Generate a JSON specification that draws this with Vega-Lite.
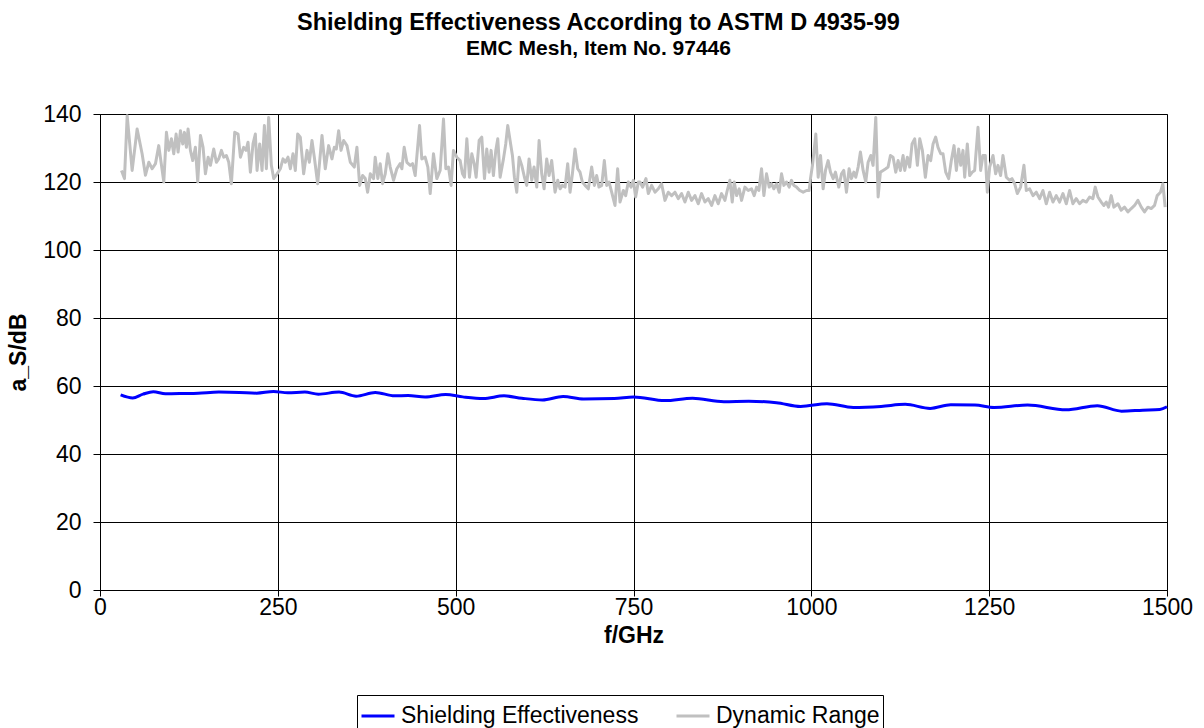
{
  "$schema": "https://vega.github.io/schema/vega-lite/v6.json",
  "width": 1067,
  "height": 476,
  "autosize": {"type": "none"},
  "padding": {"left": 100, "top": 114, "right": 37, "bottom": 138},
  "background": "white",
  "config": {
    "font": "Liberation Sans",
    "view": {"stroke": "#808080", "strokeWidth": 1}
  },
  "title": {
    "text": "Shielding Effectiveness According to ASTM D 4935-99",
    "subtitle": "EMC Mesh, Item No. 97446",
    "anchor": "middle",
    "frame": "group",
    "dx": -35,
    "offset": 44,
    "fontSize": 23.5,
    "fontWeight": "bold",
    "color": "black",
    "subtitleFontSize": 21,
    "subtitleFontWeight": "bold",
    "subtitleColor": "black",
    "subtitlePadding": 4
  },
  "datasets": {
    "se": [
      {"f": 29, "v": 57.4}, {"f": 46, "v": 56.5}, {"f": 60.5, "v": 57.6}, {"f": 75, "v": 58.3}, {"f": 92, "v": 57.7},
      {"f": 118.5, "v": 57.8}, {"f": 138, "v": 57.9}, {"f": 167, "v": 58.2}, {"f": 196, "v": 58.1}, {"f": 220, "v": 57.9},
      {"f": 244, "v": 58.4}, {"f": 264, "v": 58}, {"f": 288, "v": 58.2}, {"f": 307, "v": 57.6}, {"f": 336, "v": 58.2},
      {"f": 360, "v": 57}, {"f": 387, "v": 58.1}, {"f": 414, "v": 57.1}, {"f": 433, "v": 57.2}, {"f": 457, "v": 56.8},
      {"f": 486, "v": 57.5}, {"f": 510, "v": 56.8}, {"f": 539, "v": 56.3}, {"f": 568, "v": 57.1}, {"f": 593, "v": 56.4},
      {"f": 622, "v": 55.9}, {"f": 651, "v": 56.9}, {"f": 680, "v": 56.2}, {"f": 723, "v": 56.3}, {"f": 750, "v": 56.8},
      {"f": 794, "v": 55.7}, {"f": 833, "v": 56.4}, {"f": 877, "v": 55.4}, {"f": 912, "v": 55.5}, {"f": 951, "v": 55.1},
      {"f": 985, "v": 54}, {"f": 1022, "v": 54.8}, {"f": 1059, "v": 53.7}, {"f": 1098, "v": 54}, {"f": 1132, "v": 54.6},
      {"f": 1167, "v": 53.4}, {"f": 1196, "v": 54.5}, {"f": 1230, "v": 54.4}, {"f": 1257, "v": 53.7}, {"f": 1304, "v": 54.4},
      {"f": 1358, "v": 53}, {"f": 1402, "v": 54.2}, {"f": 1436, "v": 52.6}, {"f": 1466, "v": 52.9}, {"f": 1490, "v": 53.1},
      {"f": 1500, "v": 53.9}
    ],
    "dr": [
      {"f": 30.2, "v": 123.4}, {"f": 34.4, "v": 121}, {"f": 38.2, "v": 139.5}, {"f": 45.2, "v": 123.4}, {"f": 52.2, "v": 135.6},
      {"f": 59.2, "v": 128.3}, {"f": 63.9, "v": 122}, {"f": 68.6, "v": 125.8}, {"f": 73.3, "v": 123.9}, {"f": 78, "v": 125.4},
      {"f": 82.6, "v": 130.7}, {"f": 89.7, "v": 120}, {"f": 93.4, "v": 134.6}, {"f": 96.7, "v": 129.3}, {"f": 100.4, "v": 132.7},
      {"f": 103.7, "v": 128.3}, {"f": 107, "v": 134.1}, {"f": 109.8, "v": 128.8}, {"f": 113.1, "v": 135.1}, {"f": 116.3, "v": 131.2},
      {"f": 118.7, "v": 134.6}, {"f": 121.5, "v": 130.2}, {"f": 123.8, "v": 135.6}, {"f": 127.1, "v": 129.3}, {"f": 130.4, "v": 126.3},
      {"f": 134.1, "v": 130.2}, {"f": 137.4, "v": 120}, {"f": 141.2, "v": 133.7}, {"f": 144.9, "v": 130.2}, {"f": 148.2, "v": 122.4},
      {"f": 152, "v": 127.3}, {"f": 155.2, "v": 124.9}, {"f": 159.9, "v": 129.7}, {"f": 163.6, "v": 125.8}, {"f": 166.9, "v": 126.8},
      {"f": 170.7, "v": 129.3}, {"f": 174, "v": 127.3}, {"f": 177.7, "v": 127.8}, {"f": 181, "v": 125.8}, {"f": 184.7, "v": 119.5},
      {"f": 189.4, "v": 134.6}, {"f": 194.1, "v": 134.1}, {"f": 197.4, "v": 127.3}, {"f": 202, "v": 130.2}, {"f": 205.3, "v": 129.3},
      {"f": 208.1, "v": 131.7}, {"f": 211.4, "v": 122.9}, {"f": 215.1, "v": 131.2}, {"f": 218.4, "v": 134.1}, {"f": 220.8, "v": 123.4},
      {"f": 224.5, "v": 131.2}, {"f": 227.8, "v": 123.4}, {"f": 231.1, "v": 136.6}, {"f": 233.9, "v": 123.9}, {"f": 237.1, "v": 139},
      {"f": 240.9, "v": 124.9}, {"f": 244.2, "v": 121}, {"f": 248.9, "v": 122.4}, {"f": 253.5, "v": 123.9}, {"f": 257.3, "v": 126.8},
      {"f": 260.6, "v": 125.8}, {"f": 264.3, "v": 127.3}, {"f": 267.6, "v": 123.9}, {"f": 271.3, "v": 128.3}, {"f": 274.6, "v": 123.4},
      {"f": 277.9, "v": 134.1}, {"f": 281.6, "v": 133.2}, {"f": 286.3, "v": 122.4}, {"f": 291, "v": 129.3}, {"f": 294.3, "v": 125.8},
      {"f": 298, "v": 132.2}, {"f": 301.3, "v": 127.3}, {"f": 306, "v": 119.5}, {"f": 312.1, "v": 133.7}, {"f": 316.7, "v": 123.9},
      {"f": 321.4, "v": 130.7}, {"f": 326.1, "v": 126.8}, {"f": 329.4, "v": 130.2}, {"f": 332.2, "v": 129.7}, {"f": 335.5, "v": 135.1},
      {"f": 338.8, "v": 129.3}, {"f": 342.5, "v": 132.2}, {"f": 347.2, "v": 130.7}, {"f": 351.9, "v": 125.8}, {"f": 357.5, "v": 124.4},
      {"f": 361.2, "v": 130.2}, {"f": 365, "v": 119}, {"f": 369.2, "v": 121.9}, {"f": 372.9, "v": 121}, {"f": 376.2, "v": 117},
      {"f": 380, "v": 122.4}, {"f": 384.6, "v": 121}, {"f": 386.9, "v": 127.3}, {"f": 390.6, "v": 121}, {"f": 393.9, "v": 125.4},
      {"f": 397.2, "v": 119.5}, {"f": 401, "v": 122.4}, {"f": 404.7, "v": 128.3}, {"f": 408, "v": 124.4}, {"f": 412.7, "v": 120.5},
      {"f": 417.3, "v": 123.9}, {"f": 422, "v": 125.4}, {"f": 424.4, "v": 123.9}, {"f": 427.6, "v": 130.2}, {"f": 431.4, "v": 125.8},
      {"f": 436.1, "v": 124.9}, {"f": 439.4, "v": 125.4}, {"f": 443.1, "v": 121.9}, {"f": 449.2, "v": 136.6}, {"f": 452.4, "v": 126.8},
      {"f": 457.1, "v": 127.3}, {"f": 460.9, "v": 124.4}, {"f": 464.2, "v": 116.6}, {"f": 468.8, "v": 128.3}, {"f": 473.5, "v": 121},
      {"f": 478.2, "v": 123.4}, {"f": 482.9, "v": 138.5}, {"f": 486.2, "v": 123.9}, {"f": 489.9, "v": 124.4}, {"f": 493.6, "v": 119},
      {"f": 496.9, "v": 129.3}, {"f": 501.6, "v": 127.3}, {"f": 506.3, "v": 126.3}, {"f": 509.6, "v": 122.4}, {"f": 512.4, "v": 121.4},
      {"f": 515.7, "v": 132.7}, {"f": 519.4, "v": 121.4}, {"f": 522.7, "v": 128.3}, {"f": 526, "v": 125.4}, {"f": 528.8, "v": 121.4},
      {"f": 533, "v": 132.2}, {"f": 536.7, "v": 133.2}, {"f": 540.5, "v": 121}, {"f": 543.7, "v": 129.7}, {"f": 547, "v": 122.9},
      {"f": 549.8, "v": 129.3}, {"f": 553.1, "v": 121.9}, {"f": 556.4, "v": 129.3}, {"f": 559.2, "v": 132.7}, {"f": 562.5, "v": 121.4},
      {"f": 567.2, "v": 126.8}, {"f": 570.4, "v": 131.2}, {"f": 573.2, "v": 136.6}, {"f": 576.5, "v": 132.2}, {"f": 579.8, "v": 127.8},
      {"f": 582.6, "v": 121.4}, {"f": 585.9, "v": 117}, {"f": 589.2, "v": 127.3}, {"f": 592.9, "v": 124.9}, {"f": 596.7, "v": 121.4},
      {"f": 599.9, "v": 119}, {"f": 603.2, "v": 126.8}, {"f": 607, "v": 120.5}, {"f": 610.2, "v": 124.4}, {"f": 614, "v": 118.5},
      {"f": 617.3, "v": 132.2}, {"f": 621, "v": 122.4}, {"f": 624.3, "v": 118}, {"f": 628, "v": 126.8}, {"f": 631.3, "v": 121.9},
      {"f": 635, "v": 126.3}, {"f": 639.7, "v": 117}, {"f": 643.5, "v": 120.5}, {"f": 646.8, "v": 118}, {"f": 650, "v": 119},
      {"f": 653.8, "v": 118.5}, {"f": 657.5, "v": 125.4}, {"f": 660.8, "v": 117}, {"f": 664.1, "v": 122.4}, {"f": 667.8, "v": 129.7},
      {"f": 671.6, "v": 123.9}, {"f": 674.8, "v": 122.9}, {"f": 678.1, "v": 120}, {"f": 681.9, "v": 119}, {"f": 686.5, "v": 118},
      {"f": 691.2, "v": 124.4}, {"f": 695, "v": 119}, {"f": 698.2, "v": 121.9}, {"f": 701.5, "v": 118.5}, {"f": 705.3, "v": 119},
      {"f": 709, "v": 126.3}, {"f": 712.3, "v": 119}, {"f": 715.6, "v": 120}, {"f": 719.3, "v": 117}, {"f": 724, "v": 113.1},
      {"f": 727.7, "v": 123.9}, {"f": 731, "v": 114.1}, {"f": 735.7, "v": 117.5}, {"f": 739, "v": 116}, {"f": 742.7, "v": 120},
      {"f": 746.5, "v": 118.5}, {"f": 749.8, "v": 120.5}, {"f": 753, "v": 115.6}, {"f": 756.8, "v": 120}, {"f": 759.1, "v": 120},
      {"f": 762.8, "v": 118.5}, {"f": 767.5, "v": 121}, {"f": 770.8, "v": 116.6}, {"f": 775.5, "v": 119}, {"f": 780.2, "v": 117},
      {"f": 784.9, "v": 118}, {"f": 789.5, "v": 119.5}, {"f": 794.2, "v": 114.6}, {"f": 798.9, "v": 117}, {"f": 803.6, "v": 116},
      {"f": 808.3, "v": 117}, {"f": 812.9, "v": 115.1}, {"f": 817.6, "v": 116.6}, {"f": 822.3, "v": 114.1}, {"f": 827, "v": 117},
      {"f": 831.7, "v": 114.6}, {"f": 836.4, "v": 116}, {"f": 841, "v": 113.6}, {"f": 845.7, "v": 116.6}, {"f": 850.4, "v": 114.1},
      {"f": 855.1, "v": 115.1}, {"f": 859.8, "v": 113.1}, {"f": 864.4, "v": 116}, {"f": 869.1, "v": 113.6}, {"f": 873.8, "v": 116.6},
      {"f": 878.5, "v": 114.6}, {"f": 881.8, "v": 117.5}, {"f": 885.5, "v": 120.5}, {"f": 888.8, "v": 114.1}, {"f": 891.6, "v": 120},
      {"f": 894.9, "v": 116}, {"f": 898.6, "v": 118}, {"f": 901.9, "v": 114.6}, {"f": 906.6, "v": 118.5}, {"f": 911.3, "v": 117.5},
      {"f": 915.9, "v": 118}, {"f": 919.7, "v": 116}, {"f": 923, "v": 118.5}, {"f": 926.2, "v": 117.5}, {"f": 930, "v": 123.9},
      {"f": 933.3, "v": 116}, {"f": 937, "v": 122.4}, {"f": 940.8, "v": 118.5}, {"f": 944, "v": 119.5}, {"f": 947.3, "v": 118},
      {"f": 951.1, "v": 119.5}, {"f": 954.8, "v": 117}, {"f": 958.1, "v": 122.4}, {"f": 961.4, "v": 119}, {"f": 965.1, "v": 120},
      {"f": 968.9, "v": 118.5}, {"f": 972.1, "v": 120.5}, {"f": 975.4, "v": 119}, {"f": 979.2, "v": 118.5}, {"f": 983.8, "v": 117.5},
      {"f": 988.5, "v": 117}, {"f": 993.2, "v": 117.5}, {"f": 996.9, "v": 117.5}, {"f": 998.8, "v": 121}, {"f": 1001.6, "v": 124.9},
      {"f": 1006.3, "v": 134.1}, {"f": 1009.6, "v": 121.4}, {"f": 1012.9, "v": 127.8}, {"f": 1016.6, "v": 118}, {"f": 1019.9, "v": 123.4},
      {"f": 1023.6, "v": 126.3}, {"f": 1026.9, "v": 122.9}, {"f": 1030.7, "v": 121}, {"f": 1033.9, "v": 122.9}, {"f": 1038.6, "v": 118.5},
      {"f": 1042.4, "v": 122.4}, {"f": 1045.6, "v": 123.4}, {"f": 1049.4, "v": 117}, {"f": 1053.1, "v": 123.9}, {"f": 1056.4, "v": 121},
      {"f": 1059.7, "v": 122.9}, {"f": 1062.5, "v": 121.4}, {"f": 1065.8, "v": 124.4}, {"f": 1069, "v": 128.8}, {"f": 1072.8, "v": 123.4},
      {"f": 1076.5, "v": 120}, {"f": 1079.8, "v": 125.8}, {"f": 1083.6, "v": 127.8}, {"f": 1086.8, "v": 124.9}, {"f": 1090.6, "v": 139},
      {"f": 1093.9, "v": 115.6}, {"f": 1097.1, "v": 122.9}, {"f": 1100.9, "v": 123.4}, {"f": 1104.6, "v": 123.9}, {"f": 1107.9, "v": 124.4},
      {"f": 1111.2, "v": 127.8}, {"f": 1114.9, "v": 127.3}, {"f": 1118.7, "v": 122.9}, {"f": 1122, "v": 126.3}, {"f": 1125.2, "v": 123.4},
      {"f": 1129, "v": 127.8}, {"f": 1131.3, "v": 123.4}, {"f": 1135, "v": 127.3}, {"f": 1138.3, "v": 124.4}, {"f": 1141.6, "v": 131.2},
      {"f": 1145.3, "v": 132.7}, {"f": 1149.1, "v": 124.9}, {"f": 1152.4, "v": 132.7}, {"f": 1156.1, "v": 129.3}, {"f": 1160.3, "v": 121.4},
      {"f": 1164.1, "v": 127.8}, {"f": 1167.8, "v": 126.3}, {"f": 1171.1, "v": 131.2}, {"f": 1174.8, "v": 133.2}, {"f": 1178.1, "v": 130.2},
      {"f": 1181.9, "v": 128.3}, {"f": 1185.1, "v": 128.3}, {"f": 1188.9, "v": 122.9}, {"f": 1193.1, "v": 121}, {"f": 1196.8, "v": 126.3},
      {"f": 1200.6, "v": 130.7}, {"f": 1203.9, "v": 123.4}, {"f": 1207.1, "v": 129.7}, {"f": 1210, "v": 124.9}, {"f": 1213.2, "v": 129.3},
      {"f": 1215.6, "v": 121.4}, {"f": 1219.3, "v": 131.2}, {"f": 1222.6, "v": 121.9}, {"f": 1226.3, "v": 122.9}, {"f": 1229.6, "v": 123.4},
      {"f": 1234.3, "v": 136.1}, {"f": 1238, "v": 123.4}, {"f": 1241.3, "v": 127.8}, {"f": 1244.6, "v": 127.8}, {"f": 1247.4, "v": 117},
      {"f": 1250.7, "v": 124.4}, {"f": 1255.4, "v": 127.8}, {"f": 1259.1, "v": 122.4}, {"f": 1262.4, "v": 124.9}, {"f": 1266.1, "v": 121.9},
      {"f": 1269.4, "v": 127.8}, {"f": 1274.1, "v": 121.4}, {"f": 1278.8, "v": 120.5}, {"f": 1282.1, "v": 121}, {"f": 1285.8, "v": 119.5},
      {"f": 1289.6, "v": 116.6}, {"f": 1294.2, "v": 118.5}, {"f": 1298.9, "v": 124.9}, {"f": 1302.2, "v": 117.5}, {"f": 1306.9, "v": 118},
      {"f": 1311.6, "v": 116}, {"f": 1316.2, "v": 117}, {"f": 1320.9, "v": 115.1}, {"f": 1325.6, "v": 117.5}, {"f": 1330.3, "v": 113.6},
      {"f": 1335, "v": 117}, {"f": 1339.7, "v": 114.1}, {"f": 1344.3, "v": 116}, {"f": 1349, "v": 114.1}, {"f": 1353.7, "v": 116.6},
      {"f": 1358.4, "v": 113.6}, {"f": 1363.1, "v": 117.5}, {"f": 1367.7, "v": 113.6}, {"f": 1372.4, "v": 115.1}, {"f": 1377.1, "v": 113.6},
      {"f": 1381.8, "v": 114.6}, {"f": 1386.5, "v": 114.1}, {"f": 1391.2, "v": 115.6}, {"f": 1395.8, "v": 115.1}, {"f": 1399.1, "v": 118.5},
      {"f": 1402.9, "v": 115.6}, {"f": 1407.5, "v": 114.1}, {"f": 1411.3, "v": 113.1}, {"f": 1414.6, "v": 114.1}, {"f": 1417.8, "v": 112.6},
      {"f": 1421.6, "v": 116}, {"f": 1425.3, "v": 112.6}, {"f": 1431, "v": 113.6}, {"f": 1435.6, "v": 111.7}, {"f": 1440.3, "v": 112.6},
      {"f": 1445, "v": 111.2}, {"f": 1449.7, "v": 112.2}, {"f": 1454.4, "v": 113.1}, {"f": 1459.1, "v": 114.6}, {"f": 1463.8, "v": 112.6},
      {"f": 1468.4, "v": 111.2}, {"f": 1473.1, "v": 112.6}, {"f": 1477.8, "v": 112.2}, {"f": 1482.5, "v": 113.1}, {"f": 1486.2, "v": 116},
      {"f": 1490.9, "v": 117}, {"f": 1494.2, "v": 119.5}, {"f": 1497.4, "v": 112.6}
    ]
  },
  "layer": [
    {
      "data": {"name": "dr"},
      "transform": [{"calculate": "'Dynamic Range'", "as": "series"}],
      "mark": {"type": "line", "strokeWidth": 3, "strokeJoin": "round"},
      "encoding": {
        "x": {"field": "f", "type": "quantitative"},
        "y": {"field": "v", "type": "quantitative"},
        "color": {"field": "series", "type": "nominal"}
      }
    },
    {
      "data": {"name": "se"},
      "transform": [{"calculate": "'Shielding Effectiveness'", "as": "series"}],
      "mark": {"type": "line", "strokeWidth": 3, "interpolate": "monotone"},
      "encoding": {
        "x": {"field": "f", "type": "quantitative"},
        "y": {"field": "v", "type": "quantitative"},
        "color": {"field": "series", "type": "nominal"}
      }
    }
  ],
  "resolve": {"scale": {"color": "shared"}},
  "encoding": {
    "x": {
      "field": "f",
      "type": "quantitative",
      "scale": {"domain": [0, 1500], "nice": false, "zero": true},
      "axis": {
        "title": "f/GHz",
        "values": [0, 250, 500, 750, 1000, 1250, 1500],
        "format": "d",
        "grid": true,
        "gridColor": "black",
        "gridOpacity": 1,
        "gridWidth": 1,
        "domain": true,
        "domainColor": "black",
        "ticks": true,
        "tickSize": 6,
        "tickColor": "black",
        "labelFontSize": 23,
        "labelColor": "black",
        "labelPadding": 0,
        "labelFlush": false,
        "titleFontSize": 23,
        "titleFontWeight": "bold",
        "titleColor": "black",
        "titlePadding": 5
      }
    },
    "y": {
      "field": "v",
      "type": "quantitative",
      "scale": {"domain": [0, 140], "nice": false},
      "axis": {
        "title": "a_S/dB",
        "values": [0, 20, 40, 60, 80, 100, 120, 140],
        "format": "d",
        "grid": true,
        "gridColor": "black",
        "gridOpacity": 1,
        "gridWidth": 1,
        "domain": true,
        "domainColor": "black",
        "ticks": true,
        "tickSize": 7,
        "tickColor": "black",
        "labelFontSize": 23,
        "labelColor": "black",
        "labelPadding": 12,
        "labelFlush": false,
        "titleFontSize": 23,
        "titleFontWeight": "bold",
        "titleColor": "black",
        "titlePadding": 12
      }
    },
    "color": {
      "field": "series",
      "type": "nominal",
      "scale": {"domain": ["Shielding Effectiveness", "Dynamic Range"], "range": ["#0000ff", "#c0c0c0"]},
      "legend": {
        "title": null,
        "orient": "none",
        "direction": "horizontal",
        "columns": 2,
        "legendX": 257,
        "legendY": 581,
        "padding": 3,
        "strokeColor": "black",
        "fillColor": "white",
        "symbolType": "stroke",
        "symbolSize": 1089,
        "symbolStrokeWidth": 3,
        "labelFontSize": 23,
        "labelLimit": 0,
        "labelColor": "black",
        "labelOffset": 5,
        "columnPadding": 31
      }
    }
  }
}
